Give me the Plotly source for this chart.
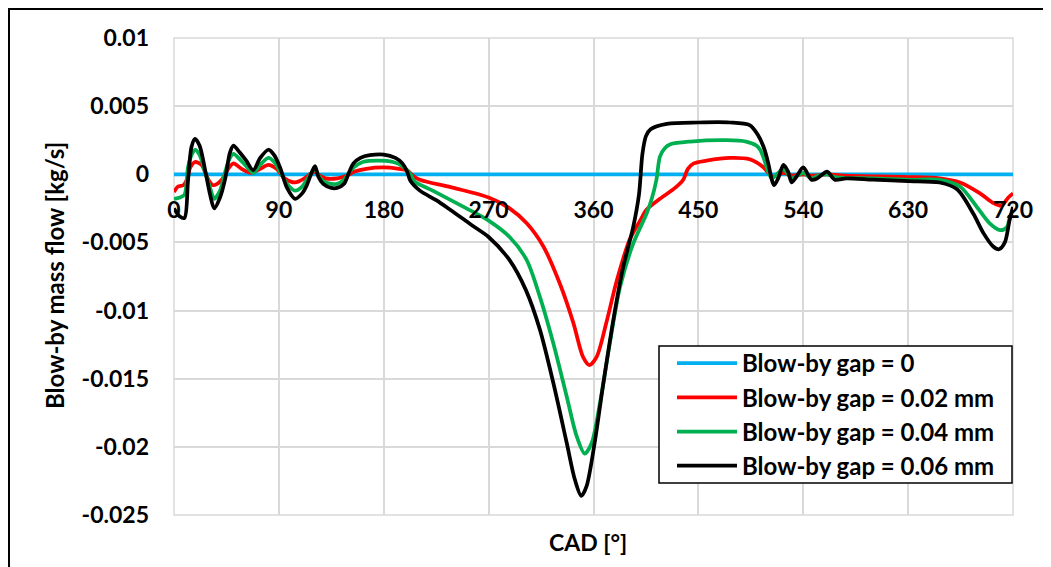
import plotly.graph_objects as go

# ---------------- data ----------------
series_names = ["Blow-by gap = 0", "Blow-by gap = 0.02 mm",
                "Blow-by gap = 0.04 mm", "Blow-by gap = 0.06 mm"]

cad_gap0 = [0, 720]
flow_gap0 = [0.0, 0.0]

cad_gap002 = [0, 3.5, 8, 11, 14, 18, 23.5, 29.5, 33.5, 37, 41, 46.5, 51, 58, 66.5, 74, 81, 88,
              95, 104, 112, 118, 121, 125, 130, 140, 148, 155, 165, 180, 193, 200, 205, 211,
              240, 270, 288, 302.7, 317, 331, 342.7, 351, 356.5, 362.7, 371, 380, 391, 400,
              405.5, 417, 430, 437, 441, 446, 457, 477, 494, 506, 511, 514, 523, 530, 540,
              547, 560, 575, 630, 657, 674.5, 691.7, 703, 710, 716, 720]
flow_gap002 = [-0.0013, -0.0009, -0.0008, -0.0004, 0.0005, 0.0009, 0.0007, -0.0004, -0.0008,
               -0.0007, -0.0004, 0.0004, 0.0008, 0.0004, 0.0001, 0.0004, 0.0007, 0.0004,
               -0.0003, -0.0006, -0.0003, 0.0001, 0.0002, -0.0001, -0.0003, -0.0003, -0.0001,
               0.0002, 0.0004, 0.0005, 0.0004, 0.0003, -0.0001, -0.0004,
               -0.0010, -0.0017, -0.0025, -0.0036, -0.0053, -0.0080, -0.0109, -0.0134,
               -0.0140, -0.0134, -0.0109, -0.0078, -0.0048, -0.0034,
               -0.0026, -0.0018, -0.0010, -0.0004, 0.0004, 0.0008, 0.0010, 0.0012, 0.0011,
               0.0005, 0.0, -0.0002, 0.0001, -0.0001, 0.0,
               -0.0001, 0.0, -0.0001, -0.0002, -0.0003, -0.0006, -0.0014, -0.0021, -0.0023,
               -0.0017, -0.0014]

cad_gap004 = [0, 5, 9, 12, 15, 18, 22, 26.5, 31, 34.5, 39.5, 44, 48, 51, 56.5, 62, 68, 74, 81,
              86, 91, 97, 104, 110, 114, 118, 121, 124, 128, 135, 140, 146, 150, 154, 162,
              175, 188, 196, 203, 206, 222, 251, 270, 288, 302.7, 314, 325.5, 337, 345.5,
              352.5, 358.5, 365.5, 374, 382.7, 394, 405.5, 410, 414, 417, 421, 426, 443,
              474, 491, 500, 503, 506, 509, 513, 518.5, 523, 527, 530, 535, 540, 547, 553,
              560.5, 567, 600, 630, 657, 674.5, 689, 700, 709, 714.5, 717.5, 720]
flow_gap004 = [-0.0018, -0.0017, -0.0015, 0.0005, 0.0014, 0.0018, 0.0014, 0.0002, -0.0010,
               -0.0018, -0.0012, 0.0002, 0.0012, 0.0015, 0.0011, 0.0006, 0.0001, 0.0007,
               0.0012, 0.0009, 0.0002, -0.0007, -0.0012, -0.0009, -0.0004, 0.0001, 0.0004,
               -0.0001, -0.0005, -0.0007, -0.0007, -0.0004, 0.0001, 0.0005, 0.0009,
               0.0010, 0.0009, 0.0006, 0.0, -0.0005, -0.0012, -0.0025, -0.0034, -0.0046,
               -0.0063, -0.0090, -0.0124, -0.0163, -0.0192,
               -0.0205, -0.0197, -0.0168, -0.0124, -0.0083, -0.0051, -0.0029, -0.0018,
               -0.0004, 0.0013, 0.0019, 0.0022, 0.0024,
               0.0025, 0.0024, 0.0021, 0.0018, 0.0012, 0.0004, -0.0003, 0.0001, 0.0004, 0.0,
               -0.0003, -0.0001, 0.0001, -0.0003, -0.0001,
               0.0, -0.0002, -0.0003, -0.0004, -0.0004, -0.0009, -0.0024, -0.0036, -0.0041,
               -0.0039, -0.0031, -0.0027]

cad_gap006 = [0, 5, 9, 12, 15, 18, 22, 26.5, 31, 34.5, 39.5, 44, 48, 51, 56.5, 62, 68, 74, 81,
              86, 91, 97, 104, 110, 114, 118, 121, 124, 128, 135, 140, 146, 150, 154, 160,
              168, 180, 190, 196, 200, 203, 211, 225, 237, 255, 270, 288, 302, 314, 325.5,
              337, 344, 349.5, 354, 361, 368, 377, 385.5, 394, 399, 402, 405, 409, 423, 450,
              477, 494, 501, 506, 510, 513, 515, 518.5, 523, 527, 530, 534, 540, 547, 552,
              560.5, 567, 577, 600, 630, 657, 672, 686, 694.5, 703, 708, 713, 717, 720]
flow_gap006 = [-0.0025, -0.0031, -0.0032, -0.0005, 0.0020, 0.0026, 0.0021, 0.0004, -0.0015,
               -0.0025, -0.0017, -0.0003, 0.0016, 0.0021, 0.0016, 0.0010, 0.0003, 0.0012,
               0.0018, 0.0014, 0.0005, -0.0010, -0.0018, -0.0014, -0.0008, 0.0001, 0.0006,
               -0.0002, -0.0007, -0.0010, -0.0010, -0.0007, 0.0001, 0.0008, 0.0012,
               0.0014, 0.00145, 0.0012, 0.0008, 0.0002, -0.0005, -0.0012, -0.0019, -0.0026,
               -0.0037, -0.0046, -0.0063, -0.0085, -0.0114, -0.0153,
               -0.0197, -0.0224, -0.0236, -0.0229, -0.0197, -0.0156, -0.0107, -0.0068,
               -0.0039, -0.0015, 0.0015, 0.0028, 0.0033, 0.0037, 0.0038,
               0.0038, 0.0036, 0.0029, 0.0020, 0.0008, -0.0004, -0.0008, -0.0003, 0.0007,
               0.0002, -0.0006, -0.0002, 0.0005, -0.0004, -0.0003,
               0.0002, -0.0004, -0.0003, -0.0004, -0.0005, -0.0006, -0.0011, -0.0029,
               -0.0043, -0.0053, -0.0055, -0.0050, -0.0034, -0.0024]

x_tickvals = [0, 90, 180, 270, 360, 450, 540, 630, 720]
x_ticktext = ["0", "90", "180", "270", "360", "450", "540", "630", "720"]
y_tickvals = [0.01, 0.005, 0.0, -0.005, -0.01, -0.015, -0.02, -0.025]
y_ticktext = ["0.01", "0.005", "0", "-0.005", "-0.01", "-0.015", "-0.02", "-0.025"]

x_title = "CAD [°]"
y_title = "Blow-by mass flow [kg/s]"

colors = ["#00B0F0", "#FF0000", "#00B050", "#000000"]

# ---------------- figure ----------------
# the page body has an 8 px margin; the figure therefore starts at page (8, 8)
OFF = 8
PAGE_W, PAGE_H = 1051, 567
W, H = PAGE_W - OFF, PAGE_H - OFF
PLOT_L, PLOT_R, PLOT_T, PLOT_B = 174, 1013, 38, 515   # plot area in page pixels
ML, MT = PLOT_L - OFF, PLOT_T - OFF
MR, MB = PAGE_W - PLOT_R, PAGE_H - PLOT_B
PW, PH = PLOT_R - PLOT_L, PLOT_B - PLOT_T


def px_x(px):
    return (px - PLOT_L) / PW


def px_y(py):
    return (PLOT_B - py) / PH


FONT = "Lato"

fig = go.Figure()
xs = [cad_gap0, cad_gap002, cad_gap004, cad_gap006]
ys = [flow_gap0, flow_gap002, flow_gap004, flow_gap006]
for name, x, y, c in zip(series_names, xs, ys, colors):
    fig.add_trace(go.Scatter(x=x, y=y, mode="lines", name=name,
                             line=dict(color=c, width=3.75, shape="spline", smoothing=0.8)))

yr = [-0.025, 0.01]
zero_pos = (0 - yr[0]) / (yr[1] - yr[0])

fig.update_layout(
    width=W, height=H,
    margin=dict(l=ML, r=MR, t=MT, b=MB, autoexpand=False),
    paper_bgcolor="white", plot_bgcolor="white",
    font=dict(family=FONT, color="black", size=22, weight="bold"),
    showlegend=True,
    legend=dict(x=px_x(659), y=px_y(341), xanchor="left", yanchor="top",
                bgcolor="rgba(0,0,0,0)", borderwidth=0,
                font=dict(family=FONT, size=24, color="black", weight="bold"),
                itemwidth=60, indentation=13, tracegroupgap=0),
    xaxis=dict(range=[0, 720], tickvals=x_tickvals, ticktext=x_ticktext,
               showgrid=True, gridcolor="#D9D9D9", gridwidth=1.5,
               zeroline=False, showline=False, ticks="",
               anchor="free", position=zero_pos, ticklabelstandoff=20,
               tickfont=dict(family=FONT, size=23, color="black", weight="bold")),
    yaxis=dict(range=yr, tickvals=y_tickvals, ticktext=y_ticktext,
               showgrid=True, gridcolor="#D9D9D9", gridwidth=1.5,
               zeroline=False, showline=False, ticks="", ticklabelstandoff=24,
               tickfont=dict(family=FONT, size=23, color="black", weight="bold")),
    shapes=[
        dict(type="rect", xref="x domain", yref="y domain", x0=0, x1=1, y0=0, y1=1,
             line=dict(color="#D9D9D9", width=1.5), layer="below"),
        # legend frame
        dict(type="rect", xref="paper", yref="paper", x0=px_x(659), x1=px_x(1012),
             y0=px_y(483), y1=px_y(346), fillcolor="white",
             line=dict(color="black", width=1.5), layer="above"),
        # chart-area border
        dict(type="line", xref="paper", yref="paper", x0=px_x(8), x1=px_x(1060),
             y0=px_y(9), y1=px_y(9), line=dict(color="black", width=2)),
        dict(type="line", xref="paper", yref="paper", x0=px_x(9), x1=px_x(9),
             y0=px_y(9), y1=px_y(580), line=dict(color="black", width=2)),
    ],
    annotations=[
        dict(text=y_title, xref="paper", yref="paper", x=px_x(54), y=px_y(276),
             xanchor="center", yanchor="middle", textangle=-90, showarrow=False,
             font=dict(family=FONT, size=24, color="black", weight="bold")),
        dict(text=x_title, xref="paper", yref="paper", x=px_x(588), y=px_y(542),
             xanchor="center", yanchor="middle", showarrow=False,
             font=dict(family=FONT, size=23, color="black", weight="bold")),
    ],
)

fig.write_html("out.html")
